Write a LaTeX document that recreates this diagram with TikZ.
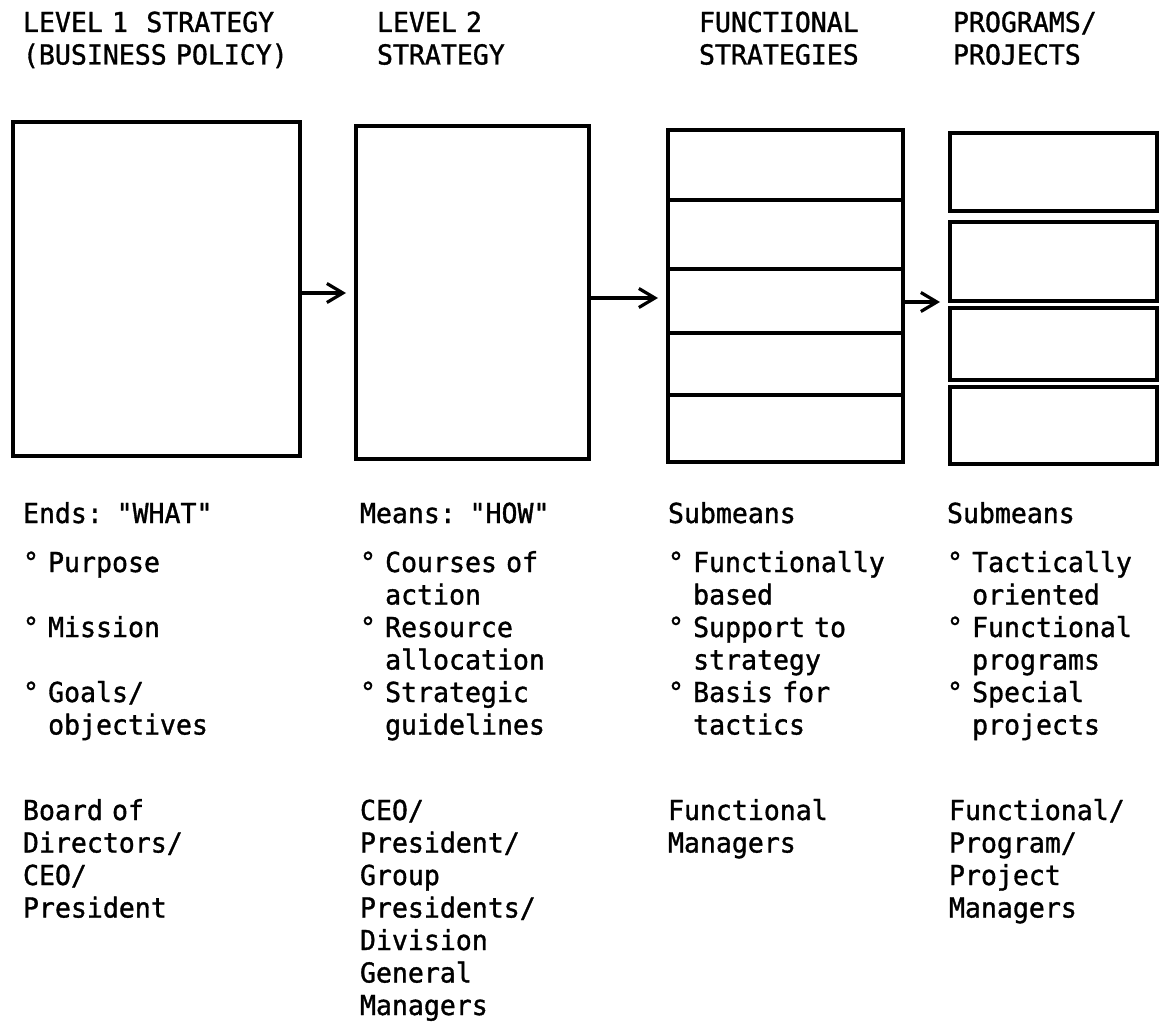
\documentclass[tikz,border=0pt]{standalone}
\usepackage{fontspec}
\setmainfont{DejaVu Sans Mono}[Ligatures=TeXOff, FakeStretch=0.965, FakeBold=1.2]
\usetikzlibrary{arrows.meta}
% every blank in the listings takes one full character cell
\newcommand{\cellspacing}{\spaceskip=\fontcharwd\font`\M\relax\xspaceskip=\spaceskip}
\begin{document}
\begin{tikzpicture}[x=1pt,y=-1pt,
  panel/.style={draw=black, line width=3.2pt, inner sep=0pt, outer sep=0pt, anchor=center},
  flow/.style={draw=black, line width=3.2pt, -{Straight Barb[length=16pt,width=19pt]}, shorten >=10pt},
  divider/.style={draw=black, line width=3.2pt},
  txt/.style={anchor=base west, inner sep=0pt, outer sep=0pt, align=left,
    font=\fontsize{27.5}{32.5}\selectfont\cellspacing},
]
\useasboundingbox (0,0) rectangle (1165,1022);

% column headings
\node[txt, text width=280pt] (h1) at (23,32) {LEVEL 1~~STRATEGY\\(BUSINESS POLICY)};
\node[txt, text width=260pt] (h2) at (377,32) {LEVEL 2\\STRATEGY};
\node[txt, text width=230pt] (h3) at (699,32) {FUNCTIONAL\\STRATEGIES};
\node[txt, text width=200pt] (h4) at (953,32) {PROGRAMS/\\PROJECTS};

% strategy panels
\node[panel, minimum width=287pt, minimum height=334pt] (b1) at (156.5,289) {};
\node[panel, minimum width=233pt, minimum height=333pt] (b2) at (472.5,292.5) {};
\node[panel, minimum width=235pt, minimum height=332pt] (b3) at (785.5,296) {};
\node[panel, minimum width=207pt, minimum height=78pt] (r1) at (1053.5,172) {};
\node[panel, minimum width=207pt, minimum height=79pt] (r2) at (1053.5,261.5) {};
\node[panel, minimum width=207pt, minimum height=72pt] (r3) at (1053.5,344) {};
\node[panel, minimum width=207pt, minimum height=77pt] (r4) at (1053.5,425.5) {};

% functional strategy bands
\foreach \yy in {200,269,333,395}
  \draw[divider] (b3.west |- 0,\yy) -- (b3.east |- 0,\yy);

% flow between levels
\draw[flow] (b1.east |- 0,293) -- (b2.west |- 0,293);
\draw[flow] (b2.east |- 0,298) -- (b3.west |- 0,298);
\draw[flow] (b3.east |- 0,302) -- (r2.west |- 0,302);

% ends and means
\node[txt, text width=280pt] (e1) at (23,523) {Ends: "WHAT"};
\node[txt, text width=280pt] (l1) at (23,572)
  {°~Purpose\\[32.5pt]°~Mission\\[32.5pt]°~Goals/\\\phantom{°~}objectives};
\node[txt, text width=270pt] (e2) at (360,523) {Means: "HOW"};
\node[txt, text width=270pt] (l2) at (360,572)
  {°~Courses of\\\phantom{°~}action\\°~Resource\\\phantom{°~}allocation\\°~Strategic\\\phantom{°~}guidelines};
\node[txt, text width=260pt] (e3) at (668,523) {Submeans};
\node[txt, text width=260pt] (l3) at (668,572)
  {°~Functionally\\\phantom{°~}based\\°~Support to\\\phantom{°~}strategy\\°~Basis for\\\phantom{°~}tactics};
\node[txt, text width=210pt] (e4) at (947,523) {Submeans};
\node[txt, text width=210pt] (l4) at (947,572)
  {°~Tactically\\\phantom{°~}oriented\\°~Functional\\\phantom{°~}programs\\°~Special\\\phantom{°~}projects};

% responsible managers
\node[txt, text width=280pt] (m1) at (23,820) {Board of\\Directors/\\CEO/\\President};
\node[txt, text width=270pt] (m2) at (360,820)
  {CEO/\\President/\\Group\\Presidents/\\Division\\General\\Managers};
\node[txt, text width=260pt] (m3) at (668,820) {Functional\\Managers};
\node[txt, text width=210pt] (m4) at (949,820) {Functional/\\Program/\\Project\\Managers};
\end{tikzpicture}
\end{document}
